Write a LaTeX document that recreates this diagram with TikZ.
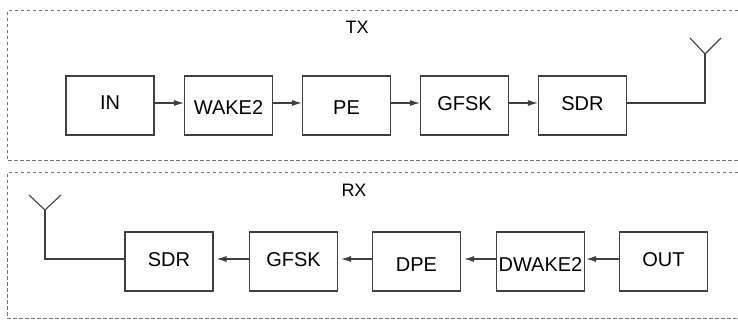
\documentclass[tikz,border=0pt]{standalone}
\usepackage{fontspec}
\setmainfont{Liberation Sans}
\usetikzlibrary{arrows.meta}
\newcommand{\shifttxt}[2]{\raisebox{#1}[\height][\depth]{#2}}
\begin{document}
\begin{tikzpicture}[x=1pt,y=-1pt,
  blk/.style={draw=black!75, line width=1.1pt, minimum width=88pt, minimum height=59pt, inner sep=0pt, font=\fontsize{20}{20}\selectfont},
  con/.style={draw=black!75, line width=1.1pt},
  arr/.style={con, -{Latex[length=10pt,width=6pt]}},
  frame/.style={draw=black!55, line width=1pt, dash pattern=on 3.5pt off 2.5pt},
  lbl/.style={font=\fontsize{18}{18}\selectfont}]
\useasboundingbox (0,0) rectangle (738,320);
% frames
\draw[frame] (738,11) -- (7,11) -- (7,161) -- (738,161);
\draw[frame] (738,173) -- (7,173) -- (7,318) -- (738,318);
\node[lbl] (tx) at (357,27) {TX};
\node[lbl] (rx) at (354,190) {RX};
% TX chain
\node[blk] (tin) at (110,105.5) {\shifttxt{2.5pt}{IN}};
\node[blk] (twake) at (228.5,105.5) {\shifttxt{-2.5pt}{WAKE2}};
\node[blk] (tpe) at (346.5,105.5) {\shifttxt{-2.5pt}{PE}};
\node[blk] (tgfsk) at (464.5,105.5) {\shifttxt{2pt}{GFSK}};
\node[blk] (tsdr) at (582.5,105.5) {\shifttxt{2pt}{SDR}};
\draw[arr] ([yshift=2.5pt]tin.east) -- ([yshift=2.5pt]twake.west);
\draw[arr] ([yshift=2.5pt]twake.east) -- ([yshift=2.5pt]tpe.west);
\draw[arr] ([yshift=2.5pt]tpe.east) -- ([yshift=2.5pt]tgfsk.west);
\draw[arr] ([yshift=2.5pt]tgfsk.east) -- ([yshift=2.5pt]tsdr.west);
\coordinate (tanttop) at (705,54);
\coordinate (tantl) at (690,38);
\coordinate (tantr) at (721,38);
\draw[con] ([yshift=2.5pt]tsdr.east) -| (tanttop);
\draw[con] (tantl) -- (tanttop) -- (tantr);
% RX chain
\node[blk] (rsdr) at (169,261.5) {\shifttxt{1.5pt}{SDR}};
\node[blk] (rgfsk) at (293.5,261.5) {\shifttxt{1.5pt}{GFSK}};
\node[blk] (rdpe) at (416.5,261.5) {\shifttxt{-3pt}{DPE}};
\node[blk] (rdwake) at (540.5,261.5) {\shifttxt{-3pt}{DWAKE2}};
\node[blk] (rout) at (663.5,261.5) {\shifttxt{2pt}{OUT}};
\draw[arr] ([yshift=2.5pt]rout.west) -- ([yshift=2.5pt,xshift=1pt]rdwake.east);
\draw[arr] ([yshift=2.5pt]rdwake.west) -- ([yshift=2.5pt,xshift=3pt]rdpe.east);
\draw[arr] ([yshift=2.5pt]rdpe.west) -- ([yshift=2.5pt,xshift=3pt]rgfsk.east);
\draw[arr] ([yshift=2.5pt]rgfsk.west) -- ([yshift=2.5pt,xshift=3pt]rsdr.east);
\coordinate (ranttop) at (45,210);
\coordinate (rantl) at (29,195);
\coordinate (rantr) at (61,195);
\draw[con] ([yshift=2.5pt]rsdr.west) -| (ranttop);
\draw[con] (rantl) -- (ranttop) -- (rantr);
\end{tikzpicture}
\end{document}
